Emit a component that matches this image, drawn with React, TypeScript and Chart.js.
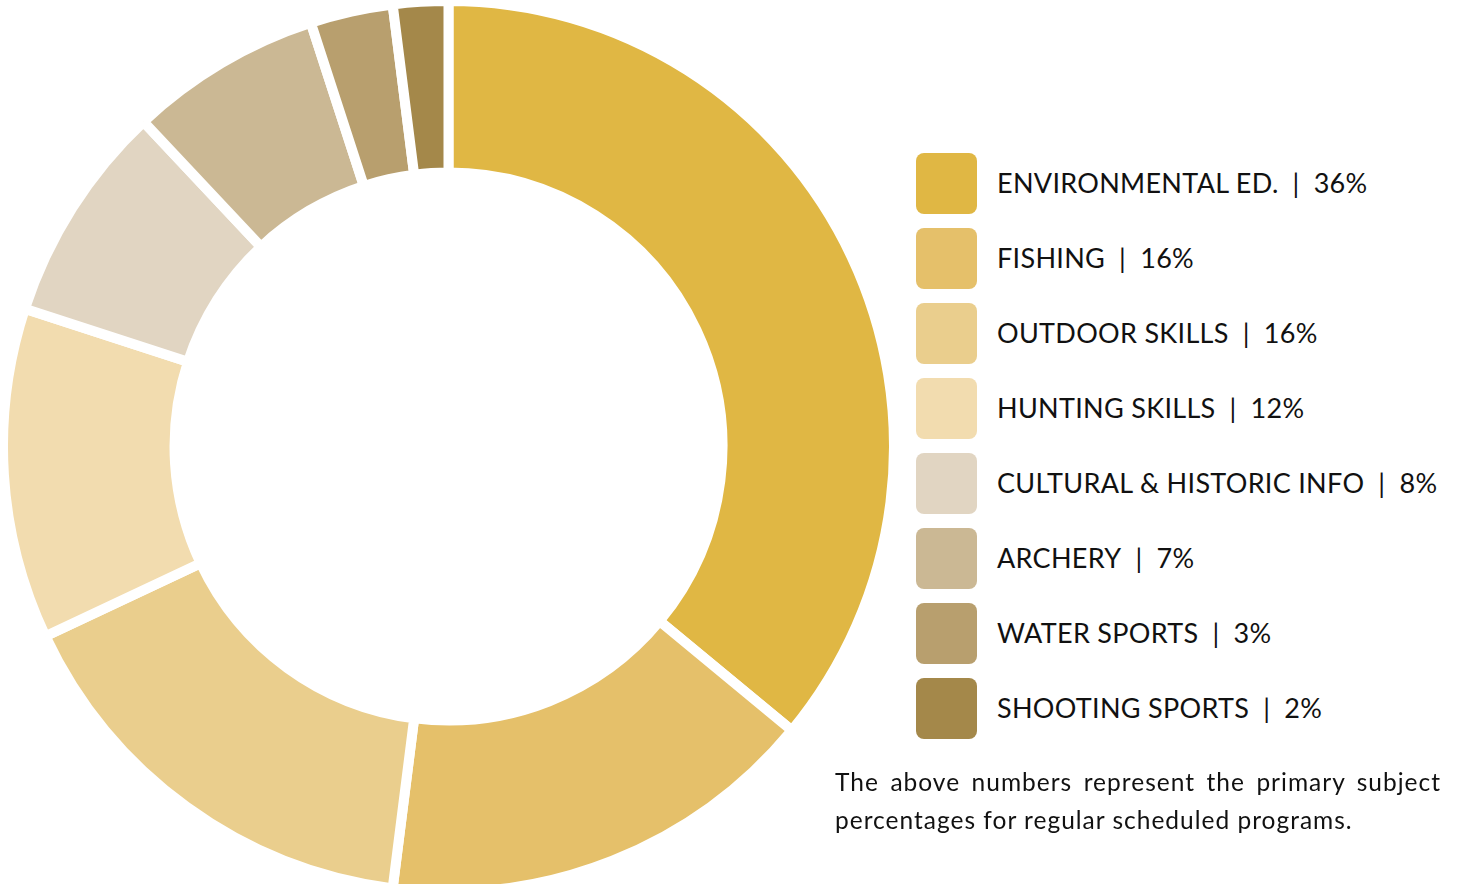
import React, { useEffect, useRef } from "react";
import { Chart, registerables } from "chart.js";

Chart.register(...registerables);

const categories = [
  "ENVIRONMENTAL ED.",
  "FISHING",
  "OUTDOOR SKILLS",
  "HUNTING SKILLS",
  "CULTURAL & HISTORIC INFO",
  "ARCHERY",
  "WATER SPORTS",
  "SHOOTING SPORTS",
];
const values = [36, 16, 16, 12, 8, 7, 3, 2];
const colors = [
  "#E0B744",
  "#E5C06A",
  "#EACE8D",
  "#F2DCAF",
  "#E1D5C2",
  "#CBB894",
  "#B89F6E",
  "#A4884A",
];
const caption =
  "The above numbers represent the primary subject percentages for regular scheduled programs.";

const FONT = "Lato, 'Noto Sans', sans-serif";

export default function App() {
  const ref = useRef<HTMLCanvasElement | null>(null);
  useEffect(() => {
    if (!ref.current) return;
    const chart = new Chart(ref.current, {
      type: "doughnut",
      data: {
        labels: categories,
        datasets: [
          {
            data: values,
            backgroundColor: colors,
            borderColor: "#ffffff",
            borderWidth: 10,
            hoverOffset: 0,
          },
        ],
      },
      options: {
        responsive: false,
        animation: false,
        cutout: "61.5%",
        layout: { padding: 0 },
        plugins: { legend: { display: false }, tooltip: { enabled: false } },
      },
    });
    return () => chart.destroy();
  }, []);

  return (
    <div
      style={{
        position: "fixed",
        left: 0,
        top: 0,
        width: 1459,
        height: 884,
        overflow: "hidden",
        background: "#fff",
        fontFamily: FONT,
      }}
    >
      <canvas
        ref={ref}
        width={901}
        height={901}
        style={{ position: "absolute", left: -2, top: -4, width: 901, height: 901 }}
      />
      {categories.map((c, i) => (
        <div
          key={c}
          style={{
            position: "absolute",
            left: 916,
            top: 153 + i * 75,
            height: 61,
            display: "flex",
            alignItems: "center",
            whiteSpace: "nowrap",
          }}
        >
          <div
            style={{
              width: 61,
              height: 61,
              borderRadius: 8,
              background: colors[i],
              marginRight: 20,
              flex: "none",
            }}
          />
          <span style={{ fontSize: 27, color: "#111", letterSpacing: 0.3, marginTop: -2 }}>
            {c}
            <span style={{ margin: "0 14px" }}>|</span>
            {values[i]}%
          </span>
        </div>
      ))}
      <div
        style={{
          position: "absolute",
          left: 835,
          top: 763,
          width: 606,
          fontSize: 24.5,
          letterSpacing: 1,
          lineHeight: "38px",
          color: "#111",
          textAlign: "justify",
          textAlignLast: "left",
        }}
      >
        {caption}
      </div>
    </div>
  );
}
